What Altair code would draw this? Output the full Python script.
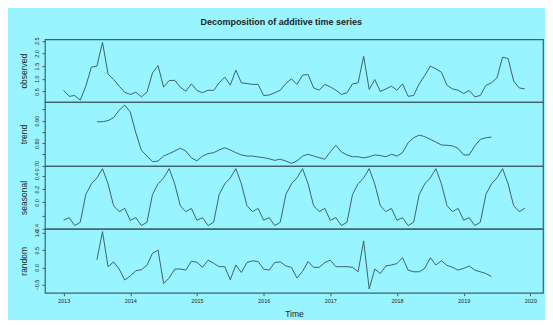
import altair as alt
import pandas as pd

# ---- data (monthly, Jan 2013 - Dec 2019) ----
start_year = 2013
n_months = 84

observed = [0.54, 0.31, 0.34, 0.16, 0.71, 1.46, 1.50, 2.44, 1.19, 0.97, 0.71, 0.47,
            0.38, 0.47, 0.29, 0.47, 1.23, 1.52, 0.67, 0.93, 0.94, 0.67, 0.51, 0.80,
            0.54, 0.45, 0.55, 0.54, 0.84, 1.07, 0.75, 1.34, 0.84, 0.81, 0.78, 0.78,
            0.34, 0.36, 0.45, 0.55, 0.81, 1.00, 0.78, 1.14, 1.17, 0.64, 0.55, 0.78,
            0.68, 0.55, 0.38, 0.45, 0.80, 0.84, 1.89, 0.58, 0.97, 0.50, 0.60, 0.71,
            0.55, 0.80, 0.31, 0.34, 0.80, 1.13, 1.50, 1.39, 1.26, 0.74, 0.60, 0.55,
            0.42, 0.54, 0.29, 0.34, 0.74, 0.84, 1.04, 1.85, 1.80, 0.91, 0.64, 0.60]

trend = [None, None, None, None, None, None, 0.895, 0.895, 0.900, 0.913, 0.946, 0.969,
         0.938, 0.846, 0.769, 0.743, 0.718, 0.721, 0.743, 0.754, 0.765, 0.778, 0.765, 0.735,
         0.722, 0.743, 0.754, 0.758, 0.770, 0.780, 0.770, 0.758, 0.748, 0.743, 0.743, 0.739,
         0.736, 0.731, 0.724, 0.729, 0.721, 0.711, 0.721, 0.743, 0.751, 0.743, 0.736, 0.729,
         0.762, 0.791, 0.761, 0.748, 0.740, 0.740, 0.735, 0.740, 0.748, 0.745, 0.740, 0.751,
         0.743, 0.758, 0.802, 0.824, 0.836, 0.829, 0.817, 0.805, 0.792, 0.791, 0.788, 0.777,
         0.748, 0.748, 0.788, 0.817, 0.824, 0.827, None, None, None, None, None, None]

seasonal = [-0.27, -0.23, -0.35, -0.30, 0.12, 0.28, 0.37, 0.51, 0.28, -0.05, -0.14, -0.09,
            -0.27, -0.23, -0.35, -0.30, 0.12, 0.28, 0.37, 0.51, 0.28, -0.05, -0.14, -0.09,
            -0.27, -0.23, -0.35, -0.30, 0.12, 0.28, 0.37, 0.51, 0.28, -0.05, -0.14, -0.09,
            -0.27, -0.23, -0.35, -0.30, 0.12, 0.28, 0.37, 0.51, 0.28, -0.05, -0.14, -0.09,
            -0.27, -0.23, -0.35, -0.30, 0.12, 0.28, 0.37, 0.51, 0.28, -0.05, -0.14, -0.09,
            -0.27, -0.23, -0.35, -0.30, 0.12, 0.28, 0.37, 0.51, 0.28, -0.05, -0.14, -0.09,
            -0.27, -0.23, -0.35, -0.30, 0.12, 0.28, 0.37, 0.51, 0.28, -0.05, -0.14, -0.09]

random_ = [None, None, None, None, None, None, 0.22, 1.04, 0.02, 0.16, -0.05, -0.37,
           -0.25, -0.10, -0.07, 0.06, 0.41, 0.50, -0.47, -0.31, -0.05, -0.05, -0.08, 0.18,
           0.15, 0.00, 0.21, 0.12, 0.02, 0.02, -0.36, 0.07, -0.15, 0.14, 0.19, 0.17,
           -0.05, -0.08, 0.14, 0.16, 0.04, 0.00, -0.31, -0.12, 0.17, 0.00, 0.00, 0.14,
           0.21, 0.02, 0.02, 0.02, 0.00, -0.13, 0.77, -0.63, -0.05, -0.18, 0.04, 0.07,
           0.11, 0.28, -0.08, -0.13, -0.13, -0.03, 0.28, 0.07, 0.19, 0.06, 0.00, -0.08,
           -0.03, 0.04, -0.08, -0.13, -0.18, -0.27, None, None, None, None, None, None]

year_ticks = [2013, 2014, 2015, 2016, 2017, 2018, 2019, 2020]
obs_ticks = [0.5, 1.0, 1.5, 2.0, 2.5]
trend_ticks = [0.70, 0.75, 0.80, 0.85, 0.90, 0.95]
seas_ticks = [-0.4, -0.2, 0.0, 0.2, 0.4]
rand_ticks = [-0.5, 0.0, 0.5, 1.0]

time = [start_year + i / 12 for i in range(n_months)]
df = pd.DataFrame({"time": time, "observed": observed, "trend": trend,
                   "seasonal": seasonal, "random": random_})

BG = "#98F5FF"
LINE = "#3f6269"
TXT = "#1e1e1e"
FONT = "Liberation Sans"
W = 499
xdom = [2012.72, 2020.19]


def panel(col, domain, ticks, fmt, height, label_expr=None, bottom=False):
    yax = dict(title=col, values=ticks, format=fmt, labelAngle=270, labelAlign="center",
               labelBaseline="bottom", labelFontSize=5.5, labelPadding=2.5, tickSize=3,
               titleFontSize=8.5, titleFontWeight="normal", titlePadding=6,
               domain=False, grid=False, labelOverlap=False, labelFlush=False,
               tickColor=LINE, labelColor=TXT, titleColor=TXT, labelFont=FONT, titleFont=FONT)
    if label_expr:
        yax["labelExpr"] = label_expr
    if bottom:
        xax = alt.Axis(title="Time", values=year_ticks, format="d", labelFontSize=5.5,
                       labelPadding=3, tickSize=3, titleFontSize=8.5, titleFontWeight="normal",
                       titlePadding=5, domain=False, grid=False, labelFlush=False,
                       labelOverlap=False, tickColor=LINE, labelColor=TXT, titleColor=TXT,
                       labelFont=FONT, titleFont=FONT)
    else:
        xax = None
    return alt.Chart(df).mark_line(color=LINE, strokeWidth=1).encode(
        x=alt.X("time:Q", scale=alt.Scale(domain=xdom, nice=False, zero=False), axis=xax),
        y=alt.Y(f"{col}:Q", scale=alt.Scale(domain=domain, nice=False, zero=False),
                axis=alt.Axis(**yax)),
    ).properties(width=W, height=height)


p1 = panel("observed", [0.08, 2.56], obs_ticks, ".1f", 63)
p2 = panel("trend", [0.699, 0.982], trend_ticks, ".2f", 64,
           label_expr="indexof(['0.70','0.80','0.90'], datum.label) >= 0 ? datum.label : ''")
p3 = panel("seasonal", [-0.40, 0.55], seas_ticks, ".1f", 63,
           label_expr="abs(datum.value + 0.2) < 0.01 ? '' : datum.label")
p4 = panel("random", [-0.74, 1.12], rand_ticks, ".1f", 64, bottom=True)

chart = alt.vconcat(p1, p2, p3, p4, spacing=0, bounds="flush",
                    title=alt.Title("Decomposition of additive time series", fontSize=9,
                                    fontWeight="bold", font=FONT, color=TXT, offset=9,
                                    anchor="middle")
                    ).resolve_scale(x="shared", y="independent").properties(
    background=BG,
    padding={"left": 10, "top": 10, "right": 1, "bottom": 1},
).configure_view(stroke=LINE, strokeWidth=1.2)

chart.save("out.html", embed_options={"renderer": "svg", "actions": False})
